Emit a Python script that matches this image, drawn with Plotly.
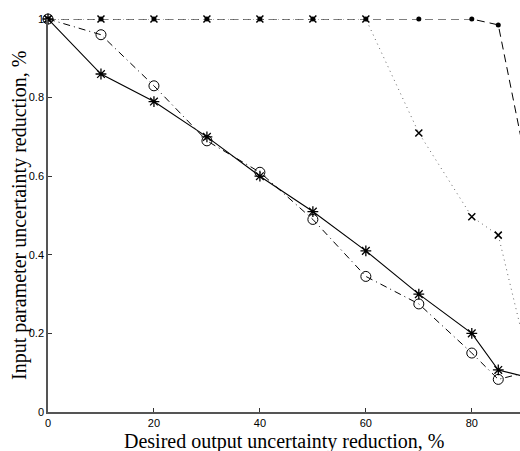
import plotly.graph_objects as go

x_vals = [0, 10, 20, 30, 40, 50, 60, 70, 80, 85, 90]
solid_star = [1.0, 0.86, 0.79, 0.70, 0.60, 0.51, 0.41, 0.30, 0.20, 0.107, 0.09]
dashdot_circle = [1.0, 0.96, 0.83, 0.69, 0.61, 0.49, 0.345, 0.275, 0.15, 0.083, 0.10]
dotted_x = [1.0, 1.0, 1.0, 1.0, 1.0, 1.0, 1.0, 0.71, 0.497, 0.45, 0.17]
dashed_dot = [1.0, 1.0, 1.0, 1.0, 1.0, 1.0, 1.0, 1.0, 1.0, 0.985, 0.65]

x_ticks = [0, 20, 40, 60, 80]
y_ticks = [0, 0.2, 0.4, 0.6, 0.8, 1]
y_tick_text = ["0", "0.2", "0.4", "0.6", "0.8", "1"]

x_title = "Desired output uncertainty reduction, %"
y_title = "Input parameter uncertainty reduction, %"

fig = go.Figure()
fig.add_trace(go.Scatter(x=x_vals, y=dotted_x, mode="lines+markers",
                         line=dict(color="#666", width=1, dash="1px,4px"),
                         marker=dict(symbol="x-thin-open", size=7, color="black",
                                     line=dict(color="black", width=1.5)),
                         cliponaxis=False))
fig.add_trace(go.Scatter(x=x_vals, y=dashed_dot, mode="lines+markers",
                         line=dict(color="black", width=1, dash="8px,5px"),
                         marker=dict(symbol="circle", size=5, color="black"),
                         cliponaxis=False))
fig.add_trace(go.Scatter(x=x_vals, y=dashdot_circle, mode="lines+markers",
                         line=dict(color="black", width=1, dash="7px,4px,1px,4px"),
                         marker=dict(symbol="circle-open", size=10, color="black",
                                     line=dict(color="black", width=1)),
                         cliponaxis=False))
fig.add_trace(go.Scatter(x=x_vals, y=solid_star, mode="lines+markers",
                         line=dict(color="black", width=1.1),
                         marker=dict(symbol="asterisk-open", size=9, color="black",
                                     line=dict(color="black", width=1.3)),
                         cliponaxis=False))

fig.update_layout(
    width=520, height=451,
    margin=dict(l=48, r=0, t=19, b=39, autoexpand=False),
    plot_bgcolor="white", paper_bgcolor="white",
    showlegend=False,
    font=dict(family="Liberation Sans", size=11, color="black"),
    annotations=[
        dict(text=x_title, xref="paper", yref="paper", x=0.5, y=-0.041,
             xanchor="center", yanchor="top", showarrow=False,
             font=dict(family="Liberation Serif", size=20, color="black")),
        dict(text=y_title, xref="paper", yref="paper", x=-0.0318, y=0.5,
             xanchor="right", yanchor="middle", showarrow=False, textangle=-90,
             font=dict(family="Liberation Serif", size=20, color="black")),
    ],
)
fig.update_xaxes(range=[0, 89.1], tickvals=x_ticks, ticks="inside", ticklen=4,
                 tickcolor="#333", showline=True, linecolor="#555", linewidth=1.5,
                 showgrid=False, zeroline=False, automargin=False,
                 tickfont=dict(family="Liberation Sans", size=11))
fig.update_yaxes(range=[0, 1], tickvals=y_ticks, ticktext=y_tick_text, ticks="inside", ticklen=4,
                 tickcolor="#333", showline=True, linecolor="#555", linewidth=1.5,
                 showgrid=False, zeroline=False, automargin=False,
                 tickfont=dict(family="Liberation Sans", size=11))

fig.write_html("out.html", config={"responsive": False, "displayModeBar": False},
               post_script="document.body.style.margin='0';document.body.style.overflow='hidden';")
